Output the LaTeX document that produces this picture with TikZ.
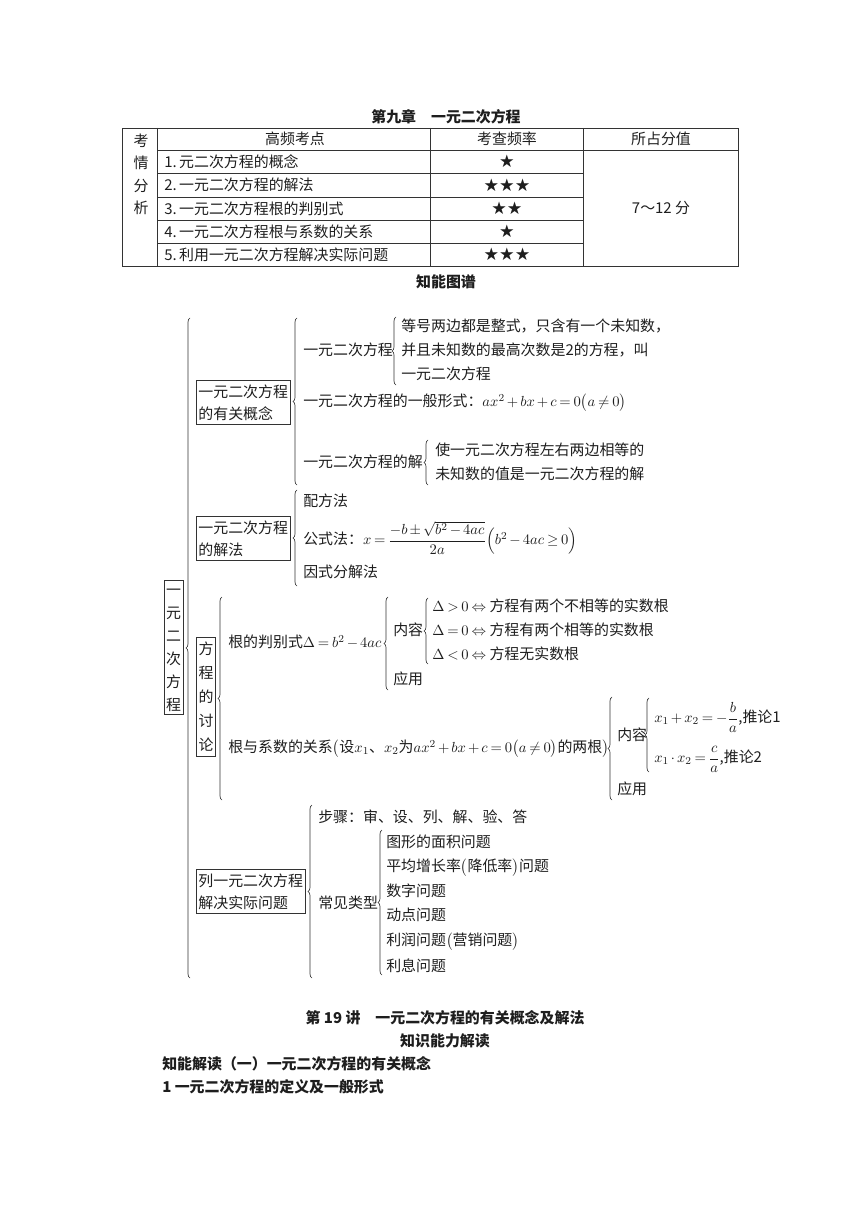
\documentclass[tikz,border=0pt]{standalone}
\usepackage{amsmath}
\usepackage{fontspec}
\setmainfont{Noto Sans CJK SC}
\newfontfamily\symfont{DejaVu Sans}
\usetikzlibrary{decorations.pathreplacing,positioning}
\definecolor{linecol}{HTML}{333333}
\definecolor{darktext}{HTML}{1E1E1E}
\medmuskip=2.5mu
\thickmuskip=3.5mu

\begin{document}
\begin{tikzpicture}[x=0.75pt,y=-0.75pt,
    txt/.style={inner sep=0pt,text=darktext,font=\fontsize{11.2}{13}\selectfont},
    item/.style={txt,anchor=base west},
    cell/.style={txt,anchor=center},
    star/.style={cell,font=\symfont\fontsize{13}{14}\selectfont},
    head/.style={txt,anchor=center,font=\fontsize{11.2}{13}\selectfont\bfseries},
    box/.style={draw=linecol,line width=0.6pt,inner xsep=1.5pt,inner ysep=3pt,align=left,
      anchor=north west,text=darktext,font=\fontsize{11.2}{16.5}\selectfont},
    vbox/.style={draw=linecol,line width=0.6pt,inner xsep=1.5pt,inner ysep=2pt,align=center,
      anchor=center,text=darktext},
    brc/.style={decorate,decoration={brace,amplitude=3pt},line width=0.5pt,draw=linecol},
    rule/.style={line width=0.6pt,draw=linecol}]
  \fill[white] (0,0) rectangle (860,1216);

  % table
  \node[head] (title) at (446,117) {第九章\quad 一元二次方程};
  \draw[rule] (122,128) rectangle (738,266);
  \draw[rule] (157,128) -- (157,266);
  \draw[rule] (430,128) -- (430,266);
  \draw[rule] (583,128) -- (583,266);
  \draw[rule] (157,150) -- (738,150);
  \foreach \y in {173,197,220,243}
    \draw[rule] (157,\y) -- (583,\y);
  \node[vbox,draw=none,font=\fontsize{11.2}{16.8}\selectfont] (side) at (141,174.5) {考\\情\\分\\析};
  \node[cell] (hpt) at (295,139) {高频考点};
  \node[cell] (hfreq) at (507,139) {考查频率};
  \node[cell] (hscore) at (661,139) {所占分值};
  \node[txt,anchor=west] (r1) at (164,161.5) {1.\,元二次方程的概念};
  \node[txt,anchor=west] (r2) at (164,185) {2.\,一元二次方程的解法};
  \node[txt,anchor=west] (r3) at (164,208.5) {3.\,一元二次方程根的判别式};
  \node[txt,anchor=west] (r4) at (164,231.5) {4.\,一元二次方程根与系数的关系};
  \node[txt,anchor=west] (r5) at (164,254.5) {5.\,利用一元二次方程解决实际问题};
  \node[star] (s1) at (507,161.5) {★};
  \node[star] (s2) at (507,185) {★★★};
  \node[star] (s3) at (507,208.5) {★★};
  \node[star] (s4) at (507,231.5) {★};
  \node[star] (s5) at (507,254.5) {★★★};
  \node[cell] (score) at (661,208) {7～12 分};
  \node[head] (maptitle) at (446,282) {知能图谱};

  % root
  \node[vbox,font=\fontsize{11.2}{17.3}\selectfont] (root) at (173.5,647.5)
    {\vphantom{程}一\\元\\二\\次\\方\\程};
  \draw[brc] (190,978) -- (190,318);

  % concept branch
  \node[box] (concept) at (196,380) {一元二次方程\\的有关概念};
  \draw[brc] (297,485) -- (297,318);
  \node[item] (def) at (303,355.5) {一元二次方程};
  \draw[brc] (396,385) -- (396,317);
  \node[item] (defa) at (401,331.5) {等号两边都是整式，只含有一个未知数，};
  \node[item] (defb) at (401,355.5) {并且未知数的最高次数是2的方程，叫};
  \node[item] (defc) at (401,379.5) {一元二次方程};
  \node[item] (gen) at (303,406.5) {一元二次方程的一般形式：$ax^2+bx+c=0\bigl(a\neq0\bigr)$};
  \node[item] (sol) at (303,467.5) {一元二次方程的解};
  \draw[brc] (428,485) -- (428,440);
  \node[item] (sola) at (435,455.5) {使一元二次方程左右两边相等的};
  \node[item] (solb) at (435,479.5) {未知数的值是一元二次方程的解};

  % method branch
  \node[box] (method) at (196,516) {一元二次方程\\的解法};
  \draw[brc] (297,586) -- (297,490);
  \node[item] (sq) at (303,506.5) {配方法};
  \node[item] (frm) at (303,544.5) {公式法：$x=\dfrac{-b\pm\sqrt{b^2-4ac}}{2a}\Bigl(b^2-4ac\geq0\Bigr)$};
  \node[item] (fac) at (303,577.5) {因式分解法};

  % discussion branch
  \node[vbox,font=\fontsize{11.2}{18}\selectfont,inner ysep=3.5pt] (disc) at (206,697) {方\\程\\的\\讨\\论};
  \draw[brc] (222,800) -- (222,597);
  \node[item] (delta) at (228,647.5) {根的判别式$\Delta=b^2-4ac$};
  \draw[brc] (388,690) -- (388,597);
  \node[item] (dcont) at (393,635.5) {内容};
  \draw[brc] (428,664) -- (428,598);
  \node[item] (dpos) at (432,611.5) {$\Delta>0\Leftrightarrow$ 方程有两个不相等的实数根};
  \node[item] (dzero) at (432,635.5) {$\Delta=0\Leftrightarrow$ 方程有两个相等的实数根};
  \node[item] (dneg) at (432,659.5) {$\Delta<0\Leftrightarrow$ 方程无实数根};
  \node[item] (duse) at (393,684.5) {应用};
  \node[item] (vieta) at (228,752.5) {根与系数的关系$\bigl($设$x_1$、$x_2$为$ax^2+bx+c=0\bigl(a\neq0\bigr)$的两根$\bigr)$};
  \draw[brc] (612,800) -- (612,697);
  \node[item] (vcont) at (617,740.5) {内容};
  \draw[brc] (649,772) -- (649,698);
  \node[item] (vsum) at (654,722.5) {$x_1+x_2=-\dfrac{b}{a}$,推论1};
  \node[item] (vprod) at (654,762.5) {$x_1\cdot x_2=\dfrac{c}{a}$,推论2};
  \node[item] (vuse) at (617,794.5) {应用};

  % word problem branch
  \node[box] (apply) at (196,869) {列一元二次方程\\解决实际问题};
  \draw[brc] (312,978) -- (312,805);
  \node[item] (steps) at (318,822.5) {步骤：审、设、列、解、验、答};
  \node[item] (types) at (318,908.5) {常见类型};
  \draw[brc] (382,975) -- (382,830);
  \node[item] (t1) at (386,847.5) {图形的面积问题};
  \node[item] (t2) at (386,871.5) {平均增长率$\bigl($降低率$\bigr)$问题};
  \node[item] (t3) at (386,896.5) {数字问题};
  \node[item] (t4) at (386,920.5) {动点问题};
  \node[item] (t5) at (386,945.5) {利润问题$\bigl($营销问题$\bigr)$};
  \node[item] (t6) at (386,971.5) {利息问题};

  % lecture heading
  \node[head] (lect) at (445,1018) {第 19 讲\quad 一元二次方程的有关概念及解法};
  \node[head] (know) at (445,1041) {知识能力解读};
  \node[head,anchor=west] (part) at (162,1064) {知能解读（一）一元二次方程的有关概念};
  \node[head,anchor=west] (sec) at (162,1087) {1 一元二次方程的定义及一般形式};
\end{tikzpicture}
\end{document}
